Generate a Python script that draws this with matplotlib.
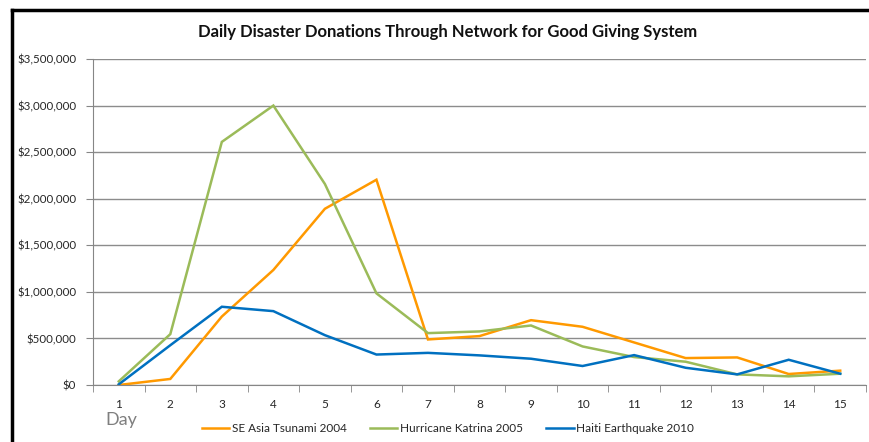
import matplotlib
matplotlib.use("Agg")
import matplotlib.pyplot as plt
from matplotlib.lines import Line2D
from matplotlib.ticker import FuncFormatter

plt.rcParams['font.family'] = ['Lato', 'DejaVu Sans']

days = list(range(1, 16))
tsunami = [0, 65000, 735000, 1235000, 1892000, 2204000, 489000, 525000, 696000,
           625000, 457000, 289000, 296000, 118000, 154000]
katrina = [39000, 546000, 2610000, 3000000, 2158000, 984000, 557000, 575000, 639000,
           414000, 300000, 250000, 114000, 93000, 121000]
haiti = [7000, 427000, 840000, 793000, 535000, 327000, 345000, 318000, 282000,
         204000, 321000, 185000, 114000, 271000, 121000]
series_names = ["SE Asia Tsunami 2004", "Hurricane Katrina 2005", "Haiti Earthquake 2010"]
colors = ["#FF9900", "#9BBB59", "#0070C0"]

fig = plt.figure(figsize=(8.7, 4.42), dpi=100)
ax = fig.add_axes([93/870, 57/442, (866-93)/870, (385-59)/442])

for vals, name, c in zip([tsunami, katrina, haiti], series_names, colors):
    ax.plot(days, vals, color=c, lw=1.8, label=name, solid_joinstyle='miter')

ax.set_xlim(0.5, 15.5)
ax.set_ylim(0, 3500000)
ax.set_yticks(range(0, 3500001, 500000))
ax.yaxis.set_major_formatter(FuncFormatter(lambda v, p: "${:,.0f}".format(v)))
ax.set_xticks(days)
ax.set_xticks([d + 0.5 for d in range(0, 16)], minor=True)
ax.tick_params(axis='x', which='major', length=0, pad=10, labelsize=8.5, labelcolor='#262626')
ax.tick_params(axis='x', which='minor', length=5, color='#868686', direction='out')
ax.tick_params(axis='y', length=5, color='#868686', labelsize=8.3, labelcolor='#262626', pad=7)
ax.grid(axis='y', color='#8C8C8C', lw=1)
ax.set_axisbelow(True)
for s in ['top', 'right']:
    ax.spines[s].set_visible(False)
for s in ['left', 'bottom']:
    ax.spines[s].set_color('#868686')

fig.text(0.514, 0.927, "Daily Disaster Donations Through Network for Good Giving System",
         ha='center', va='center', fontsize=12, fontweight='bold', color='#111111')
fig.text(105/870, 1 - 420/442, "Day", ha='left', va='center', fontsize=13, color='#7F7F7F')

fig.legend(loc='center', bbox_to_anchor=(448/870, 1 - 429/442), ncol=3, frameon=False,
           fontsize=8.5, handlelength=2.3, handletextpad=0.2, columnspacing=2.0, labelcolor='#262626')

# chart border (left and top edges visible)
fig.add_artist(Line2D([12/870, 12/870], [0, 1 - 10/442], transform=fig.transFigure, color='black', lw=2.5))
fig.add_artist(Line2D([12/870, 1], [1 - 10/442, 1 - 10/442], transform=fig.transFigure, color='black', lw=2.5))

plt.savefig("out.png", dpi=100)
plt.close()
